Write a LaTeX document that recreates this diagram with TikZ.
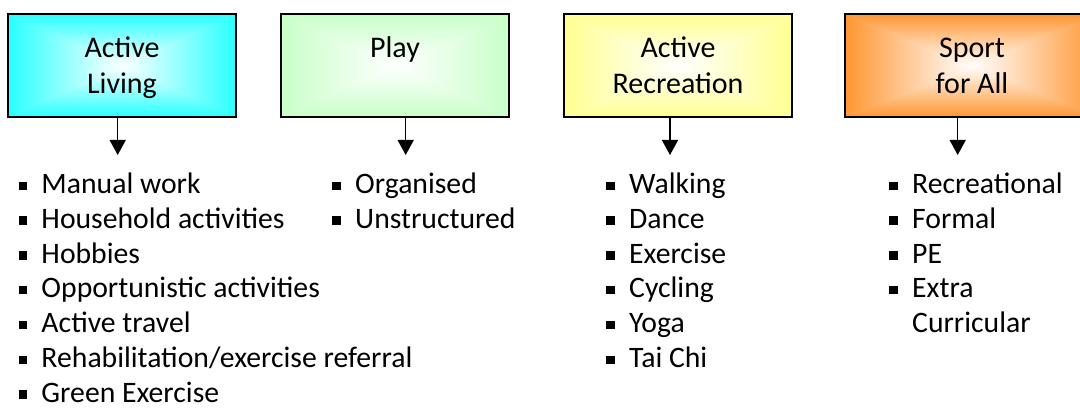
\documentclass[tikz,border=0pt]{standalone}
\usepackage{fontspec}
\setmainfont{Carlito}
\usetikzlibrary{arrows.meta,calc}
\definecolor{cAL}{RGB}{40,255,255}
\definecolor{cPL}{RGB}{200,255,200}
\definecolor{cAR}{RGB}{255,255,145}
\definecolor{cSP}{RGB}{255,150,50}
\newcommand{\mybul}{\strut\makebox[23pt][l]{\rule[3.5pt]{8.5pt}{8.5pt}}}
\tikzset{
  pyr/.style={path picture={
    \fill[#1!70!white] (path picture bounding box.north west) rectangle (path picture bounding box.south east);
    \shade[top color=#1,middle color=#1!70!white,bottom color=white] (path picture bounding box.north west) -- (path picture bounding box.north east) -- (path picture bounding box.center) -- cycle;
    \shade[top color=white,middle color=#1!70!white,bottom color=#1] (path picture bounding box.south west) -- (path picture bounding box.south east) -- (path picture bounding box.center) -- cycle;
    \shade[left color=#1,middle color=#1!70!white,right color=white] (path picture bounding box.north west) -- (path picture bounding box.south west) -- (path picture bounding box.center) -- cycle;
    \shade[left color=white,middle color=#1!70!white,right color=#1] (path picture bounding box.north east) -- (path picture bounding box.south east) -- (path picture bounding box.center) -- cycle;
  }},
  catbox/.style={draw=black, line width=1.5pt, minimum width=228pt, minimum height=103pt, inner sep=0pt, pyr=#1},
  lbl/.style={font=\fontsize{30}{36.6}\selectfont, align=center, inner sep=0pt},
  lst/.style={font=\fontsize{29.7}{34.8}\selectfont, align=left, inner sep=0pt, anchor=north west},
  arr/.style={line width=1.5pt, -{Triangle[length=15pt,width=16pt]}},
}
\begin{document}
\begin{tikzpicture}[x=1pt,y=-1pt]
\useasboundingbox (0,0) rectangle (1080,409);
\fill[white] (0,0) rectangle (1080,409);
% boxes
\node[catbox=cAL] (b1) at (122,65.5) {};
\node[catbox=cPL] (b2) at (395,65.5) {};
\node[catbox=cAR] (b3) at (678,65.5) {};
\node[catbox=cSP, minimum width=254pt] (b4) at (972,65.5) {};
% labels
\node[lbl] (l1) at (122,68) {\strut Active\\\strut Living};
\node[lbl] (l2) at (395,68) {\strut Play\\\strut};
\node[lbl] (l3) at (678,68) {\strut Active\\\strut Recreation};
\node[lbl] (l4) at (972,68) {\strut Sport\\\strut for All};
% arrow ends
\coordinate (e1) at (117.7,155);
\coordinate (e2) at (405.7,155);
\coordinate (e3) at (670,155);
\coordinate (e4) at (957.7,155);
\draw[arr] (b1.south -| e1) -- (e1);
\draw[arr] (b2.south -| e2) -- (e2);
\draw[arr] (b3.south -| e3) -- (e3);
\draw[arr] (b4.south -| e4) -- (e4);
% lists
\node[lst] (t1) at (18.3,169) {\mybul Manual work\\\mybul Household activities\\\mybul Hobbies\\\mybul Opportunistic activities\\\mybul Active travel\\\mybul Rehabilitation/exercise referral\\\mybul Green Exercise};
\node[lst] (t2) at (332,169) {\mybul Organised\\\mybul Unstructured};
\node[lst] (t3) at (606,169) {\mybul Walking\\\mybul Dance\\\mybul Exercise\\\mybul Cycling\\\mybul Yoga\\\mybul Tai Chi};
\node[lst] (t4) at (889,169) {\mybul Recreational\\\mybul Formal\\\mybul PE\\\mybul Extra\\\strut\hspace{23pt}Curricular};
\end{tikzpicture}
\end{document}
